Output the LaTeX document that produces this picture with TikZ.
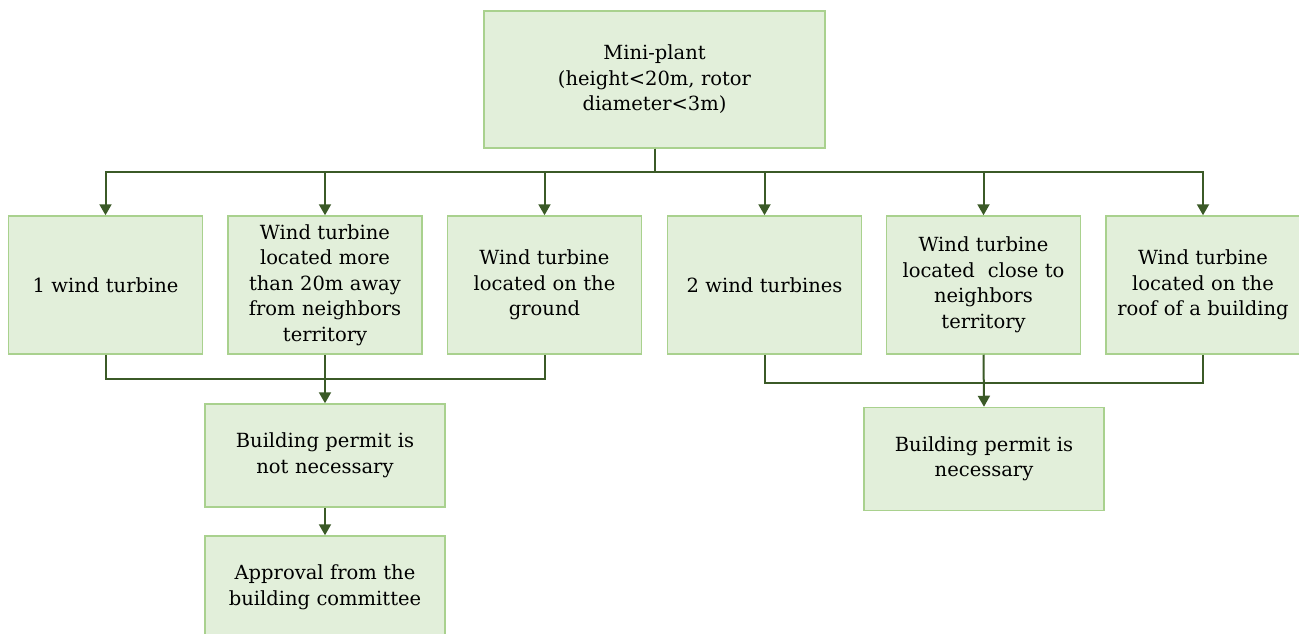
\documentclass[tikz,border=0pt]{standalone}
\usepackage{fontspec}
\setmainfont{DejaVu Serif}
\usetikzlibrary{arrows.meta}
\definecolor{boxfill}{HTML}{E2EFDA}
\definecolor{boxline}{HTML}{A9D18E}
\definecolor{wire}{HTML}{3B5A27}
\tikzset{
  box/.style={draw=boxline, fill=boxfill, line width=1.5pt, align=center,
    inner sep=2pt, font=\fontsize{19.5}{25.5}\selectfont},
  rowbox/.style={box, minimum width=193pt, minimum height=138pt, text width=190pt},
  endbox/.style={box, minimum width=240pt, minimum height=103pt, text width=235pt},
  wireline/.style={draw=wire, line width=2pt},
  arr/.style={wireline, -{Triangle[width=12pt,length=11pt]}}
}
\begin{document}
\begin{tikzpicture}[x=1pt, y=-1pt]
\useasboundingbox (0,0) rectangle (1299,634);
\fill[white] (0,0) rectangle (1299,634);

% top level
\node[box, minimum width=341pt, minimum height=137pt, text width=330pt] (top) at (654.5,79.5)
  {Mini-plant\\(height<20m, rotor\\diameter<3m)};

% second row
\node[rowbox] (b1) at (105.5,285) {1 wind turbine};
\node[rowbox] (b2) at (325,285) {Wind turbine\\located more\\than 20m away\\from neighbors\\territory};
\node[rowbox] (b3) at (544.5,285) {Wind turbine\\located on the\\ground};
\node[rowbox] (b4) at (764.5,285) {2 wind turbines};
\node[rowbox] (b5) at (983.5,285) {Wind turbine\\located\ \ close to\\neighbors\\territory};
\node[rowbox] (b6) at (1203,285) {Wind turbine\\located on the\\roof of a building};

% outcomes
\node[endbox] (pL) at (325,455.5) {Building permit is\\not necessary};
\node[endbox] (ap) at (325,587.5) {Approval from the\\building committee};
\node[endbox] (pR) at (984,459) {Building permit is\\necessary};

% distribution bus
\coordinate (bus) at (654.5,172);
\foreach \n in {b1,b2,b3,b4,b5,b6}
  \draw[arr] (top.south) -- (bus) -| (\n.north);

% left group
\coordinate (jL) at (325,379);
\draw[wireline] (b1.south) |- (jL);
\draw[wireline] (b3.south) |- (jL);
\draw[arr] (b2.south) -- (pL.north);
\draw[arr] (pL.south) -- (ap.north);

% right group
\coordinate (jR) at (983.5,383);
\draw[wireline] (b4.south) |- (jR);
\draw[wireline] (b6.south) |- (jR);
\draw[arr] (b5.south) -- (pR.north);
\end{tikzpicture}
\end{document}
